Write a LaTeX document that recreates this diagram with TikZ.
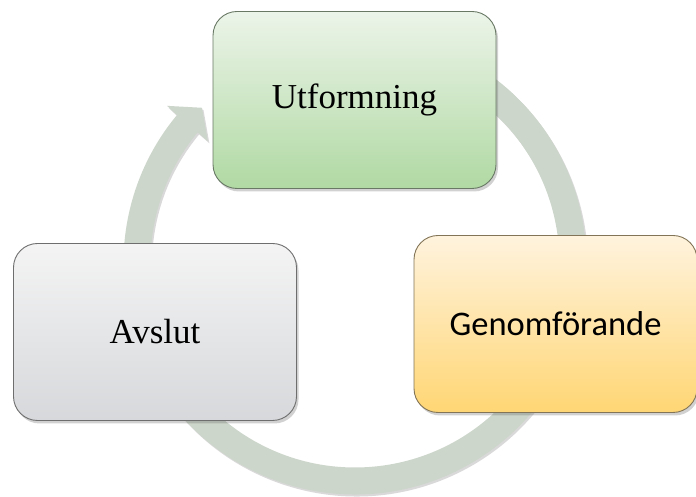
\documentclass[tikz,border=0pt]{standalone}
\usepackage{fontspec}
\setmainfont{Liberation Serif}
\newfontfamily\calfont{Carlito}
\usetikzlibrary{shadows}

\definecolor{ringcol}{RGB}{205,214,203}
\definecolor{greentop}{RGB}{236,244,233}
\definecolor{greenbot}{RGB}{176,217,163}
\definecolor{greenedge}{RGB}{104,120,100}
\definecolor{yellowtop}{RGB}{255,243,222}
\definecolor{yellowbot}{RGB}{255,214,116}
\definecolor{yellowedge}{RGB}{130,116,86}
\definecolor{greytop}{RGB}{244,244,244}
\definecolor{greybot}{RGB}{214,216,219}
\definecolor{greyedge}{RGB}{110,110,110}

\tikzset{
  phase/.style={rectangle, rounded corners=24pt, minimum width=283pt,
    minimum height=177pt, line width=0.9pt, inner sep=0pt,
    font=\fontsize{35}{40}\selectfont,
    drop shadow={shadow xshift=2pt, shadow yshift=-3pt, opacity=0.3, fill=black!60}},
  cyclering/.style={fill=ringcol,
    drop shadow={shadow xshift=1.5pt, shadow yshift=-2pt, opacity=0.25, fill=black!60}},
}

\begin{document}
\begin{tikzpicture}[x=1pt,y=1pt]
\useasboundingbox (0,0) rectangle (696,497);
\coordinate (c) at (355,234);

% circular arrow running clockwise behind the three phases
\path[cyclering]
  ([shift={(c)}]120:231.5) arc[start angle=120, end angle=-219.7, radius=231.5]
  -- ([shift={(c)}]-219.9:245)
  -- ([shift={(c)}]-225.4:218)
  -- ([shift={(c)}]-219.6:191)
  -- ([shift={(c)}]-219.7:204.5)
  arc[start angle=-219.7, end angle=120, radius=204.5]
  -- cycle;

\node[phase, draw=greenedge, top color=greentop, bottom color=greenbot]
  (utf) at (354.5,397) {Utformning};
\node[phase, draw=yellowedge, top color=yellowtop, bottom color=yellowbot,
  font=\calfont\fontsize{34.5}{40}\selectfont]
  (gen) at (555.5,173) {Genomförande};
\node[phase, draw=greyedge, top color=greytop, bottom color=greybot]
  (avs) at (155,165) {Avslut};
\end{tikzpicture}
\end{document}
